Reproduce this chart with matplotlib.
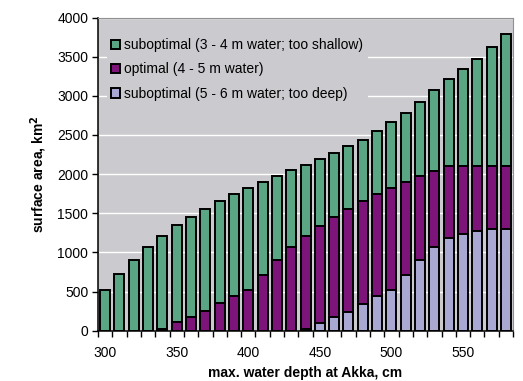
import matplotlib
matplotlib.use("Agg")
import matplotlib.pyplot as plt
import numpy as np

plt.rcParams['font.family'] = ['Liberation Sans', 'DejaVu Sans']

depth = list(range(300, 590, 10))
tick_labels = ['300', '350', '400', '450', '500', '550']

# surface area per class, km2 (stack order: deep, optimal, shallow)
too_deep = [0, 0, 0, 0, 0, 0, 0, 0, 0, 0, 0, 0, 0, 0,
            20, 94, 171, 239, 342, 444, 521, 713, 905, 1063, 1183, 1234, 1277, 1302, 1302]
optimal = [0, 0, 0, 0, 20, 107, 179, 248, 350, 440, 519, 717, 903, 1065,
           1186, 1249, 1287, 1317, 1314, 1298, 1298, 1189, 1076, 983, 917, 866, 823, 803, 798]
too_shallow = [521, 721, 905, 1067, 1188, 1238, 1277, 1310, 1311, 1306, 1304, 1187, 1078, 982,
               916, 847, 813, 801, 786, 807, 845, 882, 935, 1028, 1111, 1239, 1367, 1520, 1687]

c_shallow = '#5aa584'
c_opt = '#7d1479'
c_deep = '#a9a8d2'
bg = '#cbcbcf'

fig = plt.figure(figsize=(5.23, 3.81), dpi=100)
ax = fig.add_axes([0.1874, 0.132, 0.7936, 0.822])
ax.set_facecolor(bg)
ax.set_axisbelow(True)
ax.yaxis.grid(True, color='white', lw=1.0)

x = np.arange(len(depth))
deep = np.array(too_deep)
opt = np.array(optimal)
sh = np.array(too_shallow)
kw = dict(width=0.7, edgecolor='black', linewidth=1.4)
b3 = ax.bar(x, sh, bottom=deep + opt, color=c_shallow, label='suboptimal (3 - 4 m water; too shallow)', **kw)
b2 = ax.bar(x, opt, bottom=deep, color=c_opt, label='optimal (4 - 5 m water)', **kw)
b1 = ax.bar(x, deep, color=c_deep, label='suboptimal (5 - 6 m water; too deep)', **kw)

ax.set_xlim(-0.5, len(depth) - 0.5)
ax.set_ylim(0, 4000)
ax.set_yticks(np.arange(0, 4001, 500))
ax.set_xticks(np.arange(0, len(depth), 5))
ax.set_xticklabels(tick_labels)
ax.set_xticks(np.arange(-0.5, len(depth), 1), minor=True)
ax.tick_params(axis='x', which='major', length=0, pad=11, labelsize=10)
ax.tick_params(axis='x', which='minor', length=4, direction='out', width=1)
ax.tick_params(axis='y', length=4, width=1, labelsize=10, pad=3)

for s in ['top', 'right']:
    ax.spines[s].set_color('#909090')
for s in ['left', 'bottom']:
    ax.spines[s].set_color('black')
    ax.spines[s].set_linewidth(1.1)

ax.set_xlabel('max. water depth at Akka, cm', fontweight='bold', fontsize=10, labelpad=4)
ax.set_ylabel('surface area, km$^\\mathbf{2}$', fontweight='bold', fontsize=10, labelpad=6)

leg = ax.legend(handles=[b3, b2, b1], loc='upper left', bbox_to_anchor=(0.005, 0.97),
                fontsize=10, frameon=True, facecolor=bg, edgecolor='none', framealpha=1,
                handlelength=0.65, handleheight=0.65, handletextpad=0.3, labelspacing=0.75,
                borderpad=0.3, fancybox=False)

fig.savefig('out.png', dpi=100)
